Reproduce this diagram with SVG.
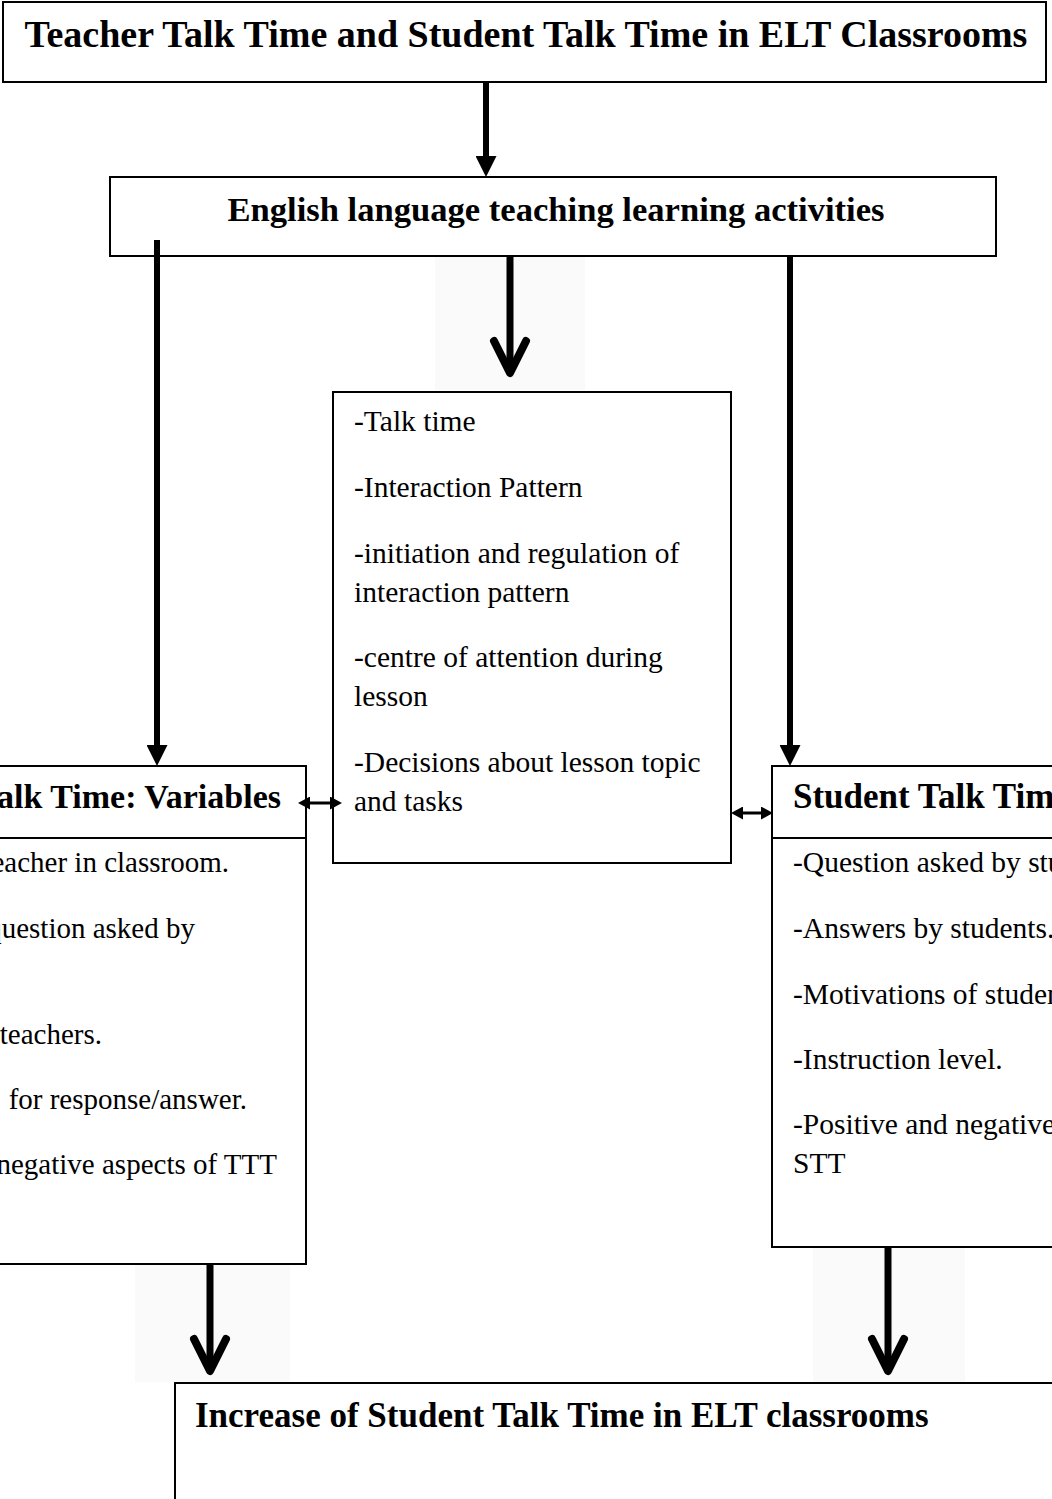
<svg xmlns="http://www.w3.org/2000/svg" width="1052" height="1499" viewBox="0 0 1052 1499">
<style>
.box{fill:#fff;stroke:#000;stroke-width:2}
.open{fill:none;stroke:#000;stroke-width:2}
.t{font-family:"Liberation Serif","Times New Roman",serif;fill:#000}
.b{font-weight:bold}
.body{font-size:29.5px}
.lbody{font-size:29px}
.stem{stroke:#000;stroke-width:6;fill:none}
.thick{stroke:#000;stroke-width:7;fill:none}
.dbl{stroke:#000;stroke-width:3;fill:none}
.shade{fill:#fafafa}
</style>
<defs>
<marker id="tri" viewBox="0 0 21 21" refX="0" refY="10.5" markerWidth="21" markerHeight="21" markerUnits="userSpaceOnUse" orient="auto">
<path d="M0,0 L21,10.5 L0,21 z" fill="#000"/>
</marker>
<marker id="chev" viewBox="-40 -24 48 48" refX="0" refY="0" markerWidth="48" markerHeight="48" markerUnits="userSpaceOnUse" orient="auto">
<path d="M-32,-16 L0,0 L-32,16" fill="none" stroke="#000" stroke-width="8" stroke-linecap="round" stroke-linejoin="round"/>
</marker>
<marker id="small" viewBox="0 0 12 13" refX="0" refY="6.5" markerWidth="12" markerHeight="13" markerUnits="userSpaceOnUse" orient="auto-start-reverse">
<path d="M0,0 L12,6.5 L0,13 z" fill="#000"/>
</marker>
</defs>
<rect width="1052" height="1499" fill="#fff"/>
<g id="shading">
<rect class="shade" x="435" y="257" width="150" height="133"/>
<rect class="shade" x="135" y="1265" width="155" height="117"/>
<rect class="shade" x="813" y="1248" width="152" height="134"/>
</g>
<g id="node-title">
<rect class="box" x="3" y="2" width="1043" height="80"/>
<text class="t b" x="526" y="47" font-size="38" text-anchor="middle">Teacher Talk Time and Student Talk Time in ELT Classrooms</text>
</g>
<g id="node-activities">
<rect class="box" x="110" y="177" width="886" height="79"/>
<text class="t b" x="556" y="221" font-size="34.6" text-anchor="middle">English language teaching learning activities</text>
</g>
<g id="node-center">
<rect class="box" x="333" y="392" width="398" height="471"/>
<g class="t body">
<text x="354" y="431">-Talk time</text>
<text x="354" y="497">-Interaction Pattern</text>
<text x="354" y="563">-initiation and regulation of</text>
<text x="354" y="602">interaction pattern</text>
<text x="354" y="667">-centre of attention during</text>
<text x="354" y="706">lesson</text>
<text x="354" y="772">-Decisions about lesson topic</text>
<text x="354" y="811">and tasks</text>
</g>
</g>
<g id="node-ttt">
<rect class="box" x="-10" y="766" width="316" height="498"/>
<line class="open" x1="-10" y1="838" x2="306" y2="838"/>
<text class="t b" x="281" y="808" font-size="34" text-anchor="end">alk Time: Variables</text>
<g class="t lbody" text-anchor="end">
<text x="229" y="872">eacher in classroom.</text>
<text x="195" y="938">question asked by</text>
<text x="102" y="1044">teachers.</text>
<text x="247" y="1109">for response/answer.</text>
<text x="277" y="1174">negative aspects of TTT</text>
</g>
</g>
<g id="node-stt">
<rect class="box" x="772" y="766" width="290" height="481"/>
<line class="open" x1="772" y1="838" x2="1062" y2="838"/>
<text class="t b" x="793" y="808" font-size="35">Student Talk Tim</text>
<g class="t body">
<text x="793" y="872">-Question asked by stu</text>
<text x="793" y="938">-Answers by students.</text>
<text x="793" y="1004">-Motivations of studen</text>
<text x="793" y="1069">-Instruction level.</text>
<text x="793" y="1134">-Positive and negative</text>
<text x="793" y="1173">STT</text>
</g>
</g>
<g id="node-increase">
<rect class="box" x="175" y="1383" width="900" height="200"/>
<text class="t b" x="195" y="1427" font-size="35">Increase of Student Talk Time in ELT classrooms</text>
</g>
<g id="connectors">
<line class="stem" x1="486" y1="82" x2="486" y2="156" marker-end="url(#tri)"/>
<line class="stem" x1="157" y1="240" x2="157" y2="745" marker-end="url(#tri)"/>
<line class="stem" x1="790" y1="256" x2="790" y2="745" marker-end="url(#tri)"/>
<line class="thick" x1="510" y1="256" x2="510" y2="373" marker-end="url(#chev)"/>
<line class="thick" x1="210" y1="1264" x2="210" y2="1371" marker-end="url(#chev)"/>
<line class="thick" x1="888" y1="1247" x2="888" y2="1371" marker-end="url(#chev)"/>
<line class="dbl" x1="310" y1="803" x2="330" y2="803" marker-start="url(#small)" marker-end="url(#small)"/>
<line class="dbl" x1="743" y1="813" x2="761" y2="813" marker-start="url(#small)" marker-end="url(#small)"/>
</g>
</svg>
